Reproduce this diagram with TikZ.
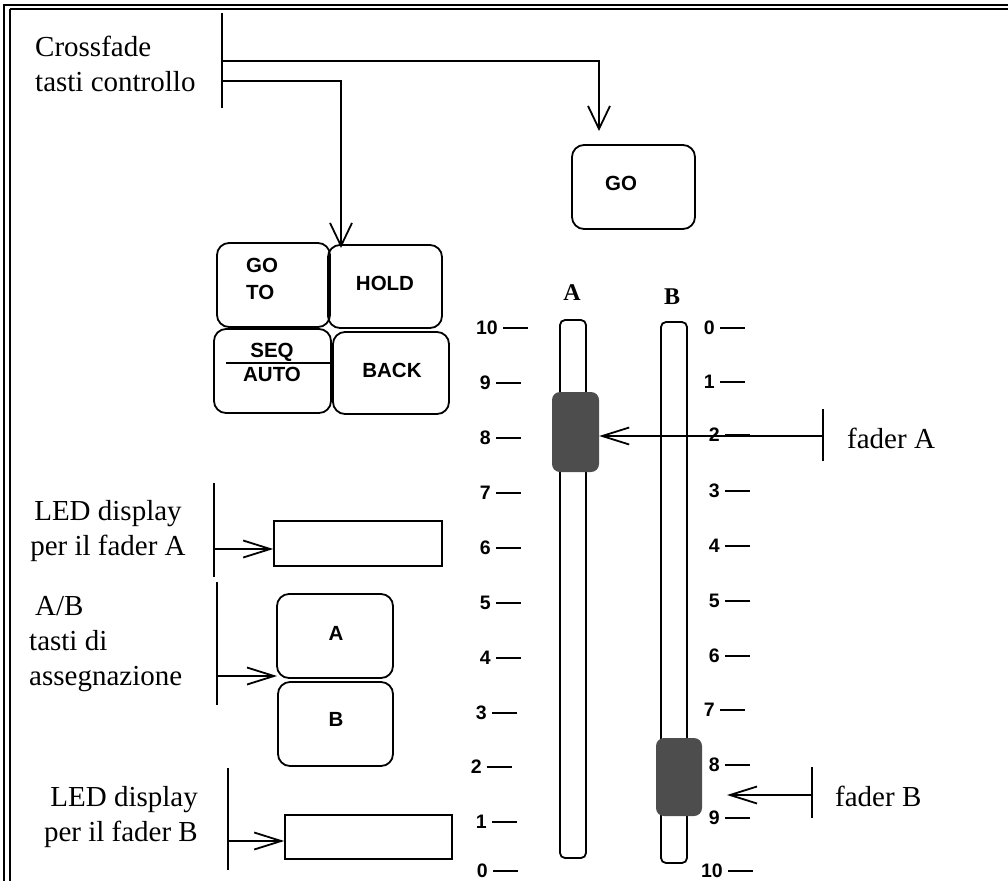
\documentclass[tikz,border=0pt]{standalone}
\usepackage{fontspec}
\setmainfont{Liberation Serif}
\setsansfont{Liberation Sans}
\usetikzlibrary{arrows.meta}
\definecolor{knobgray}{HTML}{4D4D4D}
\begin{document}
\begin{tikzpicture}[x=1pt,y=-1pt,
  lbl/.style={font=\fontsize{29}{35}\selectfont, inner sep=0pt},
  btn/.style={draw, line width=1.8pt, rounded corners=12pt, inner sep=0pt, font=\sffamily\bfseries\fontsize{20}{27}\selectfont},
  btntext/.style={inner sep=0pt, font=\sffamily\bfseries\fontsize{20.5}{27}\selectfont},
  led/.style={draw, line width=1.6pt, inner sep=0pt},
  num/.style={font=\sffamily\bfseries\fontsize{19.5}{19.5}\selectfont, inner sep=0pt, anchor=east},
  scaletick/.style={line width=1.6pt},
  conn/.style={line width=1.8pt},
  varr/.style={conn, -{Straight Barb[length=23pt,width=22pt]}},
  harr/.style={conn, -{Straight Barb[length=27pt,width=17pt]}},
  track/.style={draw, line width=1.8pt, rounded corners=5pt, inner sep=0pt},
  knob/.style={fill=knobgray, rounded corners=8pt, inner sep=0pt},
  faderlbl/.style={inner sep=0pt, font=\bfseries\fontsize{24}{24}\selectfont}
]
\useasboundingbox (0,0) rectangle (1008,881);
% frame
\draw[line width=2pt] (3,5) -- (1008,5);
\draw[line width=1.3pt] (9.5,9) -- (1008,9);
\draw[line width=1.3pt] (4,5) -- (4,881);
\draw[line width=2pt] (9.5,9) -- (9.5,881);

% text labels
\node[lbl, align=left, anchor=west] (cross) at (35,64) {Crossfade\\tasti controllo};
\node[lbl, align=center] (leda) at (108,531) {LED display\\per il fader A};
\node[lbl, align=left, anchor=west] (ab) at (29,644) {\hspace{6pt}A/B\\tasti di\\assegnazione};
\node[lbl, align=right, anchor=east] (ledb) at (198,817) {LED display\\per il fader B};
\node[lbl, anchor=west] (fa) at (847,438) {fader A};
\node[lbl, anchor=west] (fb) at (835,796) {fader B};

% buttons
\node[btn, minimum width=123pt, minimum height=84pt] (go) at (633.5,187) {};
\node[btntext] (golbl) at (621,183) {GO};
\node[btn, minimum width=113pt, minimum height=84pt] (goto) at (273.5,285) {};
\node[btntext, align=left, anchor=west] (gotolbl) at (246,279) {GO\\TO};
\node[btn, minimum width=114pt, minimum height=83pt] (hold) at (385,286.5) {};
\node[btntext] (holdlbl) at (385,283) {HOLD};
\node[btn, minimum width=117pt, minimum height=84pt] (seq) at (272.5,371) {};
\node[btntext] (seqlbl) at (272,352) {SEQ};
\node[btntext] (autolbl) at (272,374) {AUTO};
\draw[line width=1.4pt] (226,363) -- (333,363);
\node[btn, minimum width=116pt, minimum height=82pt] (back) at (391,373) {};
\node[btntext] (backlbl) at (392,370) {BACK};
\node[btn, minimum width=116pt, minimum height=84pt] (btna) at (335,636) {};
\node[btntext] (btnalbl) at (336,633) {A};
\node[btn, minimum width=115pt, minimum height=84pt] (btnb) at (335.5,724) {};
\node[btntext] (btnblbl) at (336,719) {B};

% LED displays
\node[led, minimum width=168pt, minimum height=45pt] (dispa) at (358,543.5) {};
\node[led, minimum width=167pt, minimum height=44pt] (dispb) at (368.5,837) {};

% faders
\node[track, minimum width=26pt, minimum height=538pt] (tracka) at (573,589) {};
\node[track, minimum width=26pt, minimum height=541pt] (trackb) at (674,592.5) {};
\node[knob, minimum width=47pt, minimum height=80pt] (knoba) at (575.5,432) {};
\node[knob, minimum width=46pt, minimum height=78pt] (knobb) at (679,777) {};
\node[faderlbl] (lbla) at (572,293) {A};
\node[faderlbl] (lblb) at (672,297) {B};

% scale A
\foreach \l/\y/\t in {10/328/503, 9/383/496, 8/438/496, 7/493/496, 6/548/496, 5/603/496, 4/658/496, 3/713/492, 2/767/487, 1/822/492, 0/871/493}{
  \node[num] (sa\l) at (\t-5,\y) {\l};
  \draw[scaletick] (sa\l.east) ++(5,0) -- ++(25,0);
}
% scale B
\foreach \l/\y/\t in {0/328/720, 1/382/720, 2/435/725, 3/491/725, 4/546/725, 5/601/725, 6/656/725, 7/710/720, 8/765/725, 9/818/725, 10/871/728}{
  \node[num] (sb\l) at (\t-5,\y) {\l};
  \draw[scaletick] (sb\l.east) ++(5,0) -- ++(25,0);
}

% connectors
\coordinate (cxtop) at (222,13);
\coordinate (cxbot) at (222,108);
\draw[conn] (cxtop) -- (cxbot);
\coordinate (c1) at (222,61);
\coordinate (c2) at (222,81);
\coordinate (gotip) at (599,131);
\coordinate (gototip) at (341,248);
\draw[varr] (c1) -| (gotip);
\draw[varr] (c2) -| (gototip);

\coordinate (la1) at (214,483);
\coordinate (la2) at (214,577);
\draw[conn] (la1) -- (la2);
\draw[harr] (214,549) -- (dispa.west |- 0,549);

\coordinate (ab1) at (217,582);
\coordinate (ab2) at (217,705);
\draw[conn] (ab1) -- (ab2);
\coordinate (abtip) at (277,676);
\draw[harr] (217,676) -- (abtip);

\coordinate (lb1) at (228,768);
\coordinate (lb2) at (228,870);
\draw[conn] (lb1) -- (lb2);
\draw[harr] (228,841) -- (dispb.west |- 0,841);

\coordinate (fa1) at (823,409);
\coordinate (fa2) at (823,461);
\draw[conn] (fa1) -- (fa2);
\draw[harr] (823,436) -- (knoba.east |- 0,436);

\coordinate (fb1) at (812,767);
\coordinate (fb2) at (812,818);
\draw[conn] (fb1) -- (fb2);
\coordinate (fbtip) at (727,795);
\draw[harr] (812,795) -- (fbtip);
\end{tikzpicture}
\end{document}
